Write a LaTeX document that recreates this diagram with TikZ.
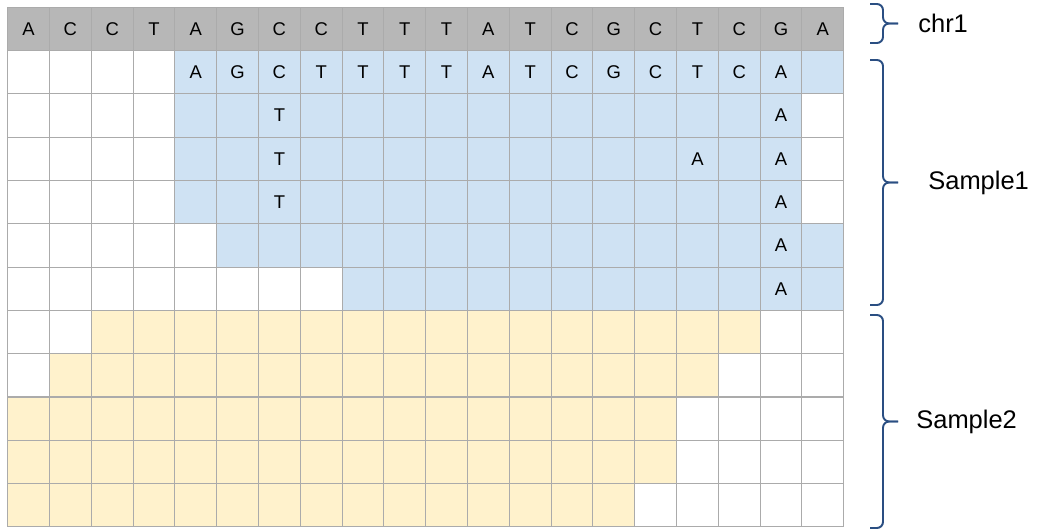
\documentclass[tikz,border=0pt]{standalone}
\usepackage{fontspec}
\setmainfont{Liberation Sans}
\usepackage{xcolor}
\definecolor{cRef}{HTML}{B7B7B7}
\definecolor{cSOne}{HTML}{CFE2F3}
\definecolor{cSTwo}{HTML}{FFF2CC}
\definecolor{cLine}{HTML}{ABABAB}
\definecolor{cBrace}{HTML}{2A4E82}
\usepackage{tikz}
\usetikzlibrary{positioning}
\tikzset{
  cell/.style={draw=cLine,line width=0.6pt,minimum width=0.836cm,
    minimum height=0.866cm,inner sep=0pt,outer sep=0pt,anchor=north west,
    font=\fontsize{10.5}{12}\selectfont},
  base/.style={inner sep=0pt,font=\fontsize{10.5}{12}\selectfont},
  % accolades des groupes, dessinees a la main
  grp-brace/.style={draw=cBrace,line width=1.1pt,rounded corners=3.5pt},
  grp-label/.style={anchor=west,inner sep=0pt,font=\fontsize{14.5}{16}\selectfont},
}

\begin{document}
\begin{tikzpicture}[x=0.02cm,y=-0.02cm]
  \useasboundingbox (0,0) rectangle (1038,530);
  % chr1
  \foreach \b [count=\c from 0] in {A,C,C,T,A,G,C,C,T,T,T,A,T,C,G,C,T,C,G,A}
    \node[cell,fill=cRef] (cell-0-\c) at ({7.7+41.8*\c},7.3) {\b};
  % lectures : ligne / premiere col. / derniere col. / couleur
  \foreach \r/\from/\to/\col in {1/4/19/cSOne,2/4/18/cSOne,3/4/18/cSOne,
      4/4/18/cSOne,5/5/19/cSOne,6/8/19/cSOne,7/2/17/cSTwo,8/1/16/cSTwo,
      9/0/15/cSTwo,10/0/15/cSTwo,11/0/14/cSTwo}{
    \foreach \c in {0,...,19}{
      \def\fc{white}
      \ifnum\c<\from\relax\else\ifnum\c>\to\relax\else\def\fc{\col}\fi\fi
      \node[cell,fill=\fc] (cell-\r-\c) at ({7.7+41.8*\c},{7.3+43.3*\r}) {};
    }
  }
  \foreach \b [count=\c from 4] in {A,G,C,T,T,T,T,A,T,C,G,C,T,C,A}
    \node[base] (b-1-\c) at (cell-1-\c) {\b};
  \foreach \r/\c/\b in {2/6/T,3/6/T,4/6/T,3/16/A,2/18/A,3/18/A,4/18/A,5/18/A,6/18/A}
    \node[base] (b-\r-\c) at (cell-\r-\c) {\b};

  \foreach \nm/\top/\bot/\txt/\lx in {chr/4/43/chr1/918,s1/60/305/Sample1/928,
      s2/315/528/Sample2/916}{
    \coordinate (\nm-top) at (870,\top);
    \coordinate (\nm-bot) at (870,\bot);
    \coordinate (\nm-tip) at (898,{(\top+\bot)/2});
    \draw[grp-brace] (\nm-top) -- ++(13,0) |- (\nm-tip);
    \draw[grp-brace] (\nm-bot) -- ++(13,0) |- (\nm-tip);
    \node[grp-label] (\nm-lbl) at (\lx,{(\top+\bot)/2}) {\txt};
  }
\end{tikzpicture}
\end{document}
